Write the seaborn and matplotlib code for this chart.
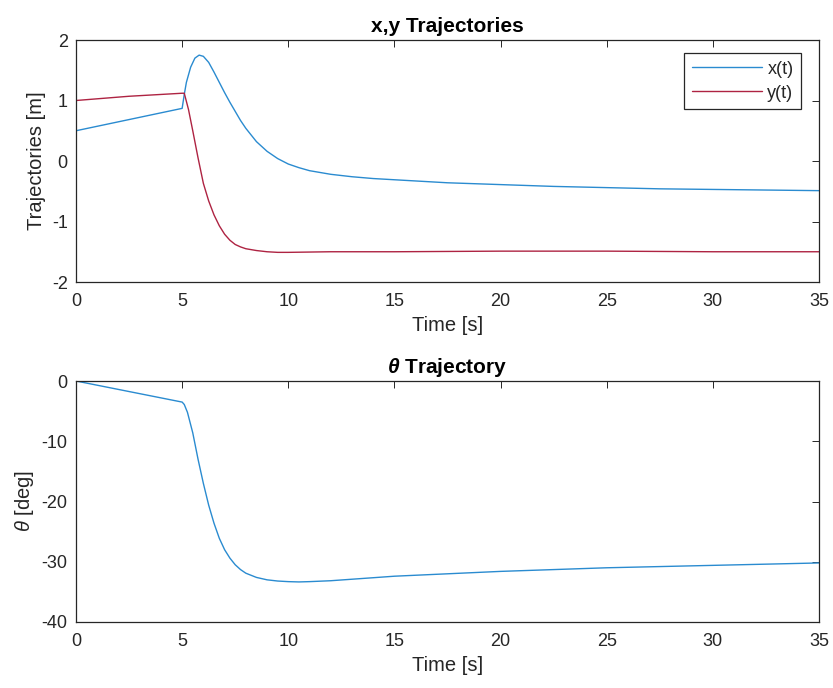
import matplotlib
matplotlib.use("Agg")
import matplotlib.pyplot as plt
import seaborn as sns
import pandas as pd

# ---- data ----
t_x = [0, 2.5, 5, 5.1, 5.2, 5.4, 5.6, 5.8, 6.0, 6.25, 6.5, 6.75, 7.0, 7.25, 7.5, 7.75, 8.0,
       8.5, 9.0, 9.5, 10, 10.5, 11, 11.5, 12, 13, 14, 15, 17.5, 20, 22.5, 25, 27.5, 30, 32.5, 35]
x_vals = [0.50, 0.685, 0.87, 1.10, 1.30, 1.55, 1.70, 1.75, 1.73, 1.63, 1.47, 1.30, 1.13,
          0.97, 0.82, 0.67, 0.54, 0.32, 0.16, 0.04, -0.05, -0.11, -0.16, -0.19, -0.22,
          -0.26, -0.29, -0.31, -0.36, -0.39, -0.42, -0.44, -0.46, -0.47, -0.48, -0.49]

t_y = [0, 2.5, 5, 5.1, 5.3, 5.5, 5.75, 6.0, 6.25, 6.5, 6.75, 7.0, 7.25, 7.5, 7.75, 8.0, 8.5,
       9.0, 9.5, 10, 12, 15, 20, 25, 30, 35]
y_vals = [1.00, 1.07, 1.12, 1.12, 0.85, 0.50, 0.05, -0.37, -0.66, -0.89, -1.07, -1.21,
          -1.31, -1.38, -1.42, -1.45, -1.48, -1.50, -1.51, -1.51, -1.50, -1.50, -1.49,
          -1.49, -1.50, -1.50]

t_th = [0, 2.5, 5, 5.1, 5.25, 5.5, 5.75, 6.0, 6.25, 6.5, 6.75, 7.0, 7.25, 7.5, 7.75, 8.0,
        8.5, 9.0, 9.5, 10, 10.5, 11, 12, 13, 14, 15, 17.5, 20, 22.5, 25, 27.5, 30, 32.5, 35]
th_vals = [0, -1.75, -3.5, -3.9, -5.2, -8.6, -13.0, -17.0, -20.6, -23.6, -26.1, -28.0,
           -29.4, -30.5, -31.3, -31.9, -32.6, -33.0, -33.2, -33.3, -33.35, -33.3, -33.15,
           -32.9, -32.65, -32.4, -32.0, -31.6, -31.3, -31.0, -30.8, -30.6, -30.4, -30.2]

series_names = ["x(t)", "y(t)"]
xticks = [0, 5, 10, 15, 20, 25, 30, 35]
yticks_top = [-2, -1, 0, 1, 2]
yticks_bot = [-40, -30, -20, -10, 0]

# ---- styling ----
sns.set_theme(style="white")
plt.rcParams["font.family"] = ["Liberation Sans", "DejaVu Sans"]
plt.rcParams["mathtext.fontset"] = "custom"
plt.rcParams["mathtext.it"] = "Liberation Sans:italic"
plt.rcParams["mathtext.bf"] = "Liberation Sans:bold:italic"

AX_COL = "#262626"
BLUE = "#2A8BD0"
RED = "#AE2342"
TICK_FS = 13
LAB_FS = 14.5
TITLE_FS = 15

fig = plt.figure(figsize=(8.33, 6.88), dpi=100)
ax1 = fig.add_axes([76 / 833, 1 - 282 / 688, 743 / 833, 242 / 688])
ax2 = fig.add_axes([76 / 833, 1 - 622 / 688, 743 / 833, 241 / 688])

df_top = pd.concat([
    pd.DataFrame({"t": t_x, "v": x_vals, "s": series_names[0]}),
    pd.DataFrame({"t": t_y, "v": y_vals, "s": series_names[1]}),
])
df_bot = pd.DataFrame({"t": t_th, "v": th_vals})

sns.lineplot(data=df_top, x="t", y="v", hue="s", palette=[BLUE, RED],
             estimator=None, sort=False, linewidth=1.0, ax=ax1)
sns.lineplot(data=df_bot, x="t", y="v", color=BLUE,
             estimator=None, sort=False, linewidth=1.0, ax=ax2)


def style(ax, yticks, ylim):
    ax.set_xlim(0, 35)
    ax.set_ylim(*ylim)
    ax.set_xticks(xticks)
    ax.set_yticks(yticks)
    ax.set_xticklabels([str(v) for v in xticks])
    ax.set_yticklabels([str(v) for v in yticks])
    for sp in ax.spines.values():
        sp.set_visible(True)
        sp.set_color(AX_COL)
        sp.set_linewidth(0.9)
    ax.tick_params(axis="both", direction="in", top=True, right=True,
                   length=5, width=0.7, color=AX_COL, labelcolor=AX_COL,
                   labelsize=TICK_FS)
    ax.tick_params(axis="x", pad=8)
    ax.tick_params(axis="y", pad=6)
    ax.set_xlabel("Time [s]", fontsize=LAB_FS, color=AX_COL, labelpad=4)
    ax.grid(False)


style(ax1, yticks_top, (-2, 2))
style(ax2, yticks_bot, (-40, 0))

ax1.set_ylabel("Trajectories [m]", fontsize=LAB_FS, color=AX_COL, labelpad=4)
ax2.set_ylabel(r"$\theta$ [deg]", fontsize=LAB_FS, color=AX_COL, labelpad=4)
ax1.set_title("x,y Trajectories", fontsize=TITLE_FS, fontweight="bold", color="black", pad=6)
ax2.set_title(r"$\mathbf{\theta}$ Trajectory", fontsize=TITLE_FS, fontweight="bold", color="black", pad=6)

leg = ax1.legend(loc="upper right", bbox_to_anchor=((800.7 - 76) / 743, 1 - (53.3 - 40) / 242),
                 borderaxespad=0, fontsize=TICK_FS, frameon=True, fancybox=False,
                 framealpha=1, edgecolor=AX_COL, handlelength=3.9, handletextpad=0.3,
                 labelspacing=0.4, borderpad=0.4, title=None)
leg.get_frame().set_linewidth(0.9)
for txt in leg.get_texts():
    txt.set_color(AX_COL)

fig.savefig("out.png", dpi=100, facecolor="white")
